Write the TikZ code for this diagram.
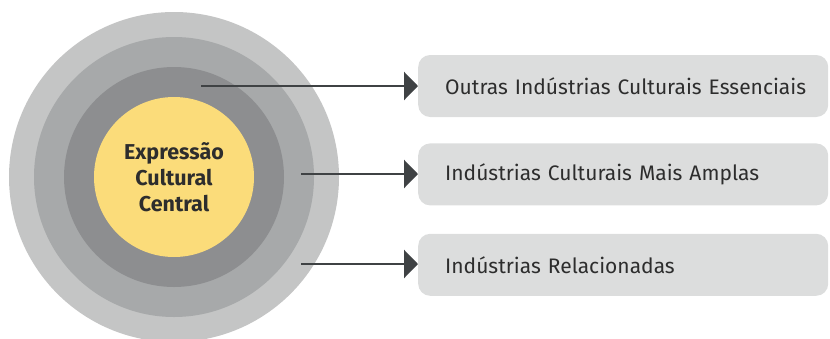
\documentclass[tikz,border=0pt]{standalone}
\usepackage{fontspec}
\setmainfont{Fira Sans}
\usetikzlibrary{arrows.meta,positioning}
\definecolor{ringout}{RGB}{196,197,197}
\definecolor{ringmid}{RGB}{167,169,170}
\definecolor{ringin}{RGB}{141,142,144}
\definecolor{coreyel}{RGB}{251,220,122}
\definecolor{boxgray}{RGB}{220,221,221}
\definecolor{linkgray}{RGB}{63,66,68}
\definecolor{txtgray}{RGB}{45,45,45}
\tikzset{
  ring/.style={circle,draw=none,inner sep=0pt,minimum size=#1},
  layerbox/.style={rectangle,rounded corners=12pt,fill=boxgray,anchor=west,
    minimum width=410pt,minimum height=62pt,text width=356pt,inner xsep=27pt,
    align=left,text=txtgray,font=\fontsize{21}{24}\selectfont},
  link/.style={draw=linkgray,line width=2.5pt,-{Triangle[length=14pt,width=28pt]}}
}
\begin{document}
\begin{tikzpicture}[x=1pt,y=-1pt]
  \useasboundingbox (0,0) rectangle (830,338);
  \pgfmathsetmacro{\cx}{174}
  \pgfmathsetmacro{\cy}{177}
  \node[ring=330pt,fill=ringout] (outer) at (\cx,\cy) {};
  \node[ring=280pt,fill=ringmid] (middle) at (\cx,\cy) {};
  \node[ring=220pt,fill=ringin] (inner) at (\cx,\cy) {};
  \node[ring=160pt,fill=coreyel,align=center,text=txtgray,
        font=\bfseries\fontsize{21.5}{26}\selectfont] (core) at (\cx,\cy)
        {Expressão\\Cultural\\Central};

  \node[layerbox] (essential) at (418,86) {\mbox{Outras Indústrias Culturais Essenciais}};
  \node[layerbox,below=26pt of essential.south west,anchor=north west] (wider) {Indústrias Culturais Mais Amplas};
  \node[layerbox,below=28pt of wider.south west,anchor=north west] (related) {Indústrias Relacionadas};

  \coordinate (s1) at (201,86);
  \coordinate (s2) at (301,174);
  \coordinate (s3) at (301,264);
  \draw[link] (s1) -- (s1 -| essential.west);
  \draw[link] (s2) -- (s2 -| wider.west);
  \draw[link] (s3) -- (s3 -| related.west);
\end{tikzpicture}
\end{document}
